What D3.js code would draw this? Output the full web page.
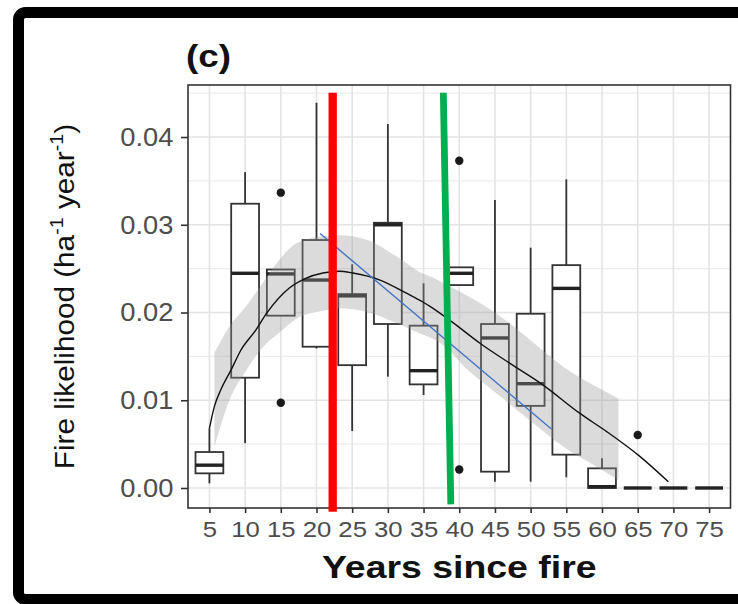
<!DOCTYPE html>
<html>
<head>
<meta charset="utf-8">
<script src="https://cdn.jsdelivr.net/npm/d3@7/dist/d3.min.js"></script>
<style>
  html, body { margin: 0; padding: 0; background: #fff; }
  svg { display: block; }
  text { font-family: Arial, "Liberation Sans", Helvetica, sans-serif; }
</style>
</head>
<body>
<div id="chart"></div>
<script>
// ---------------- data ----------------
const years      = [5, 10, 15, 20, 25, 30, 35, 40, 45, 50, 55, 60, 65, 70, 75];
const whiskerLo  = [0.00053, 0.0051, 0.01964, 0.0159, 0.0065, 0.01269, 0.0106, 0.02313, 0.00072, 0.00072, 0.00122, 0, 0, 0, 0];
const q1         = [0.00167, 0.01257, 0.01964, 0.0161, 0.0140, 0.01869, 0.01181, 0.02313, 0.00186, 0.00936, 0.0038, 0, 0, 0, 0];
const medians    = [0.0026, 0.02447, 0.0244, 0.0237, 0.0219, 0.0300, 0.01337, 0.02447, 0.0171, 0.01189, 0.02275, 0.00015, 0, 0, 0];
const q3         = [0.0041, 0.0324, 0.0249, 0.02826, 0.0221, 0.03023, 0.0185, 0.02515, 0.01869, 0.01986, 0.0254, 0.00224, 0, 0, 0];
const whiskerHi  = [0.0068, 0.0360, 0.0249, 0.04391, 0.0255, 0.04148, 0.02333, 0.02515, 0.03282, 0.02739, 0.03518, 0.0034, 0, 0, 0];

const outlierYears  = [15, 15, 40, 40, 65];
const outlierValues = [0.03366, 0.00972, 0.0373, 0.0021, 0.00604];

// loess-like smooth curve
const smoothYears  = [5, 5.7, 6.6, 8.0, 9.4, 11.5, 13.0, 16.2, 18.5, 20.9, 23.2, 25.1, 28.9, 32.6, 34.9, 35.9, 38.7, 42.9, 47.1, 51.8, 56.9, 60.7, 65.3, 69.3];
const smoothValues = [0.0068, 0.0093, 0.0112, 0.0134, 0.0157, 0.0180, 0.0199, 0.0228, 0.0239, 0.0245, 0.0247, 0.0245, 0.0237, 0.0222, 0.0212, 0.0207, 0.0191, 0.0165, 0.0142, 0.0117, 0.0085, 0.0064, 0.0036, 0.0007];

// confidence ribbon
const ribbonYears = [5.7, 7.8, 10.15, 13.0, 14.8, 17.2, 20.9, 23.2, 27.0, 31.2, 34.5, 36.3, 38.2, 40.5, 45.2, 49.9, 54.6, 59.3, 62.3];
const ribbonLow   = [0.0047, 0.0100, 0.0134, 0.0165, 0.0177, 0.0193, 0.0202, 0.0205, 0.0201, 0.0188, 0.0176, 0.0170, 0.0160, 0.0140, 0.0108, 0.0077, 0.0047, 0.0024, 0.0009];
const ribbonHigh  = [0.0154, 0.0184, 0.0207, 0.0240, 0.0260, 0.0279, 0.0287, 0.0288, 0.0283, 0.0264, 0.0246, 0.0240, 0.0232, 0.0222, 0.0199, 0.0169, 0.0138, 0.0115, 0.0102];

// hand-drawn annotation lines
const blueLineYears  = [20.5, 52.95];
const blueLineValues = [0.0290, 0.00669];
const redLineYears   = [22.27, 22.27];
const redLineValues  = [0.04505, -0.0027];
const greenLineYears = [37.77, 38.82];
const greenLineValues= [0.04505, -0.00186];

const yTicks = [0, 0.01, 0.02, 0.03, 0.04];
const yMinor = [0.005, 0.015, 0.025, 0.035, 0.045];

const titleText  = "(c)";
const xTitleText = "Years since fire";

// ---------------- layout ----------------
const W = 738, H = 604;
const panel = { left: 188, right: 730.5, top: 85, bottom: 508 };

const svg = d3.select("#chart").append("svg")
  .attr("width", W).attr("height", H);

// outer black frame
svg.append("rect")
  .attr("x", 18.5).attr("y", 12.5)
  .attr("width", 760).attr("height", 587)
  .attr("rx", 7)
  .attr("fill", "none").attr("stroke", "#000").attr("stroke-width", 11);

// scales
const x = d3.scalePoint().domain(years).range([panel.left, panel.right]).padding(0.6);
const step = x.step();
const xYear = d3.scaleLinear()
  .domain([years[0] - 3, years[years.length - 1] + 3])
  .range([panel.left, panel.right]);
const y = d3.scaleLinear().domain([-0.00228, 0.04593]).range([panel.bottom, panel.top]);

const g = svg.append("g");

// clip
svg.append("defs").append("clipPath").attr("id", "clip")
  .append("rect").attr("x", panel.left).attr("y", panel.top)
  .attr("width", panel.right - panel.left).attr("height", panel.bottom - panel.top);

// grid
const grid = g.append("g");
grid.selectAll(".ymin").data(yMinor).join("line")
  .attr("x1", panel.left).attr("x2", panel.right)
  .attr("y1", d => y(d)).attr("y2", d => y(d))
  .attr("stroke", "#ececec").attr("stroke-width", 1.2);
grid.selectAll(".ymaj").data(yTicks).join("line")
  .attr("x1", panel.left).attr("x2", panel.right)
  .attr("y1", d => y(d)).attr("y2", d => y(d))
  .attr("stroke", "#e4e4e4").attr("stroke-width", 1.6);
grid.selectAll(".xmaj").data(years).join("line")
  .attr("x1", d => x(d)).attr("x2", d => x(d))
  .attr("y1", panel.top).attr("y2", panel.bottom)
  .attr("stroke", "#e4e4e4").attr("stroke-width", 1.6);

// boxes
const bw = step * 0.78;
const boxData = years.map((yr, i) => ({
  yr, lo: whiskerLo[i], q1: q1[i], med: medians[i], q3: q3[i], hi: whiskerHi[i]
}));
const boxes = g.append("g").selectAll("g").data(boxData).join("g");
boxes.append("line")
  .attr("x1", d => x(d.yr)).attr("x2", d => x(d.yr))
  .attr("y1", d => y(d.q3)).attr("y2", d => y(d.hi))
  .attr("stroke", "#333").attr("stroke-width", 1.8);
boxes.append("line")
  .attr("x1", d => x(d.yr)).attr("x2", d => x(d.yr))
  .attr("y1", d => y(d.q1)).attr("y2", d => y(d.lo))
  .attr("stroke", "#333").attr("stroke-width", 1.8);
boxes.append("rect")
  .attr("x", d => x(d.yr) - bw / 2).attr("width", bw)
  .attr("y", d => y(d.q3)).attr("height", d => y(d.q1) - y(d.q3))
  .attr("fill", "#fff").attr("stroke", "#333").attr("stroke-width", 1.8);
boxes.append("line")
  .attr("x1", d => x(d.yr) - bw / 2).attr("x2", d => x(d.yr) + bw / 2)
  .attr("y1", d => y(d.med)).attr("y2", d => y(d.med))
  .attr("stroke", "#222").attr("stroke-width", 3.4);

// outliers
g.append("g").selectAll("circle").data(outlierYears.map((yr, i) => [yr, outlierValues[i]]))
  .join("circle")
  .attr("cx", d => x(d[0])).attr("cy", d => y(d[1])).attr("r", 4.2)
  .attr("fill", "#1a1a1a");

// ribbon
const ribbon = ribbonYears.map((yr, i) => ({ yr, lo: ribbonLow[i], hi: ribbonHigh[i] }));
g.append("path").datum(ribbon)
  .attr("clip-path", "url(#clip)")
  .attr("d", d3.area().curve(d3.curveMonotoneX)
    .x(d => xYear(d.yr)).y0(d => y(d.lo)).y1(d => y(d.hi)))
  .attr("fill", "#999").attr("fill-opacity", 0.35);

// smooth curve
const smooth = smoothYears.map((yr, i) => ({ yr, v: smoothValues[i] }));
g.append("path").datum(smooth)
  .attr("d", d3.line().curve(d3.curveMonotoneX).x(d => xYear(d.yr)).y(d => y(d.v)))
  .attr("fill", "none").attr("stroke", "#111").attr("stroke-width", 1.4);

// blue line
g.append("path").datum(blueLineYears.map((yr, i) => [yr, blueLineValues[i]]))
  .attr("d", d3.line().x(d => xYear(d[0])).y(d => y(d[1])))
  .attr("fill", "none").attr("stroke", "#4472c4").attr("stroke-width", 1.4);

// panel border
g.append("rect")
  .attr("x", panel.left).attr("y", panel.top)
  .attr("width", panel.right - panel.left).attr("height", panel.bottom - panel.top)
  .attr("fill", "none").attr("stroke", "#333").attr("stroke-width", 1.6);

// axes
const xAxis = svg.append("g").attr("transform", `translate(0,${panel.bottom})`)
  .call(d3.axisBottom(x).tickSize(5).tickPadding(8));
xAxis.select(".domain").remove();
xAxis.selectAll(".tick line").attr("stroke", "#333").attr("stroke-width", 1.6);
xAxis.selectAll(".tick text")
  .attr("font-size", 23).attr("fill", "#4d4d4d")
  .attr("transform", "scale(1.12,1)");

const yAxis = svg.append("g").attr("transform", `translate(${panel.left},0)`)
  .call(d3.axisLeft(y).tickValues(yTicks).tickFormat(d3.format(".2f")).tickSize(7).tickPadding(7));
yAxis.select(".domain").remove();
yAxis.selectAll(".tick line").attr("stroke", "#333").attr("stroke-width", 1.6);
yAxis.selectAll(".tick text")
  .attr("font-size", 26).attr("fill", "#4d4d4d")
  .attr("transform", "scale(1.05,1)");

// red and green vertical annotation lines
svg.append("path").datum(redLineYears.map((yr, i) => [yr, redLineValues[i]]))
  .attr("d", d3.line().x(d => xYear(d[0])).y(d => y(d[1])))
  .attr("stroke", "#ff0000").attr("stroke-width", 8.3).attr("fill", "none");
svg.append("path").datum(greenLineYears.map((yr, i) => [yr, greenLineValues[i]]))
  .attr("d", d3.line().x(d => xYear(d[0])).y(d => y(d[1])))
  .attr("stroke", "#00b050").attr("stroke-width", 6.8).attr("fill", "none");

// titles
svg.append("text")
  .attr("transform", "translate(186,66.5) scale(1.15,1)")
  .attr("font-size", 32).attr("font-weight", "bold").attr("fill", "#111")
  .text(titleText);

svg.append("text")
  .attr("transform", `translate(${(panel.left + panel.right) / 2},578) scale(1.17,1)`)
  .attr("text-anchor", "middle")
  .attr("font-size", 32).attr("font-weight", "bold").attr("fill", "#111")
  .text(xTitleText);

const yt = svg.append("text")
  .attr("transform", `translate(74,${(panel.top + panel.bottom) / 2}) rotate(-90) scale(1.1,1)`)
  .attr("text-anchor", "middle")
  .attr("font-size", 27).attr("fill", "#111");
yt.append("tspan").text("Fire likelihood (ha");
yt.append("tspan").attr("dy", -11).attr("font-size", 18).text("-1");
yt.append("tspan").attr("dy", 11).text(" year");
yt.append("tspan").attr("dy", -11).attr("font-size", 18).text("-1");
yt.append("tspan").attr("dy", 11).text(")");
</script>
</body>
</html>
